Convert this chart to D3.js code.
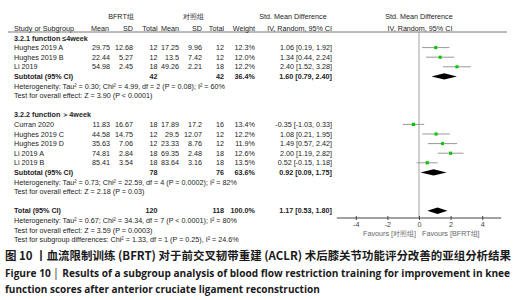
<!DOCTYPE html>
<html>
<head>
<meta charset="utf-8">
<script src="https://cdn.jsdelivr.net/npm/d3@7"></script>
<style>
  body { margin: 0; background: #fff; }
  svg { display: block; }
</style>
</head>
<body>
<div id="chart"></div>
<script>
// data
const studies = ["Hughes 2019 A", "Hughes 2019 B", "Li 2019", "Curran 2020", "Hughes 2019 C", "Hughes 2019 D", "Li 2019 A", "Li 2019 B"];
const subgroup = [0, 0, 0, 1, 1, 1, 1, 1];
const expMean = [29.75, 22.44, 54.98, 11.83, 44.58, 35.63, 74.81, 85.41];
const expSD = [12.68, 5.27, 2.45, 16.67, 14.75, 7.06, 2.84, 3.54];
const expN = [12, 12, 18, 18, 12, 12, 18, 18];
const ctlMean = [17.25, 13.5, 49.26, 17.89, 29.5, 23.33, 69.35, 83.64];
const ctlSD = [9.96, 7.42, 2.21, 17.2, 12.07, 8.76, 2.48, 3.16];
const ctlN = [12, 12, 18, 16, 12, 12, 18, 18];
const weight = [12.3, 12.0, 12.2, 13.4, 12.2, 11.9, 12.6, 13.5];
const smd = [1.06, 1.34, 2.40, -0.35, 1.08, 1.49, 2.00, 0.52];
const ciLo = [0.19, 0.44, 1.52, -1.03, 0.21, 0.57, 1.19, -0.15];
const ciHi = [1.92, 2.24, 3.28, 0.33, 1.95, 2.42, 2.82, 1.18];

const groupNames = ["3.2.1 function ≤4week", "3.2.2 function ＞4week"];
const subN = [[42, 42], [78, 76]];
const subWeight = [36.4, 63.6];
const subSmd = [[1.60, 0.79, 2.40], [0.92, 0.09, 1.75]];
const subHet = ["Heterogeneity: Tau² = 0.30; Chi² = 4.99, df = 2 (P = 0.08); I² = 60%",
                "Heterogeneity: Tau² = 0.73; Chi² = 22.59, df = 4 (P = 0.0002); I² = 82%"];
const subTest = ["Test for overall effect: Z = 3.90 (P < 0.0001)",
                 "Test for overall effect: Z = 2.18 (P = 0.03)"];
const totalN = [120, 118];
const totalSmd = [1.17, 0.53, 1.80];
const totalNotes = ["Heterogeneity: Tau² = 0.67; Chi² = 34.34, df = 7 (P < 0.0001); I² = 80%",
                    "Test for overall effect: Z = 3.59 (P = 0.0003)",
                    "Test for subgroup differences: Chi² = 1.33, df = 1 (P = 0.25), I² = 24.6%"];
const axisTicks = [-4, -2, 0, 2, 4];

const width = 522, height = 300;
const svg = d3.select("#chart").append("svg")
  .attr("width", width).attr("height", height)
  .style("font-family", "'Liberation Sans', Arial, sans-serif");

// build row list
const rows = [];
[0, 1].forEach(g => {
  rows.push({type: "group", label: groupNames[g]});
  studies.forEach((s, i) => {
    if (subgroup[i] === g) rows.push({type: "study", i});
  });
  rows.push({type: "sub", g});
  rows.push({type: "note", label: subHet[g]});
  rows.push({type: "note", label: subTest[g]});
  rows.push({type: "blank"});
});
rows.push({type: "total"});
totalNotes.forEach(t => rows.push({type: "note", label: t}));

const y = d3.scaleLinear().domain([0, 1]).range([38, 47.6]);
const x = d3.scaleLinear().domain([-5, 5]).range([340, 498]);
const size = d3.scaleSqrt().domain([0, 14]).range([0, 3.3]);

const fs = 7.2;
const col = {em: 110, esd: 133, en: 157.5, cm: 179, csd: 202, cn: 224, w: 255, ci: 332};
const txt = "#222";

function t(xp, yp, s, anchor, bold, color) {
  return svg.append("text")
    .attr("x", xp).attr("y", yp).attr("dy", "0.35em")
    .attr("text-anchor", anchor || "start")
    .attr("font-size", fs)
    .attr("font-weight", bold ? "bold" : "normal")
    .attr("fill", color || txt)
    .text(s);
}
const f2 = v => v.toFixed(2);
const ciText = v => `${f2(v[0])} [${f2(v[1])}, ${f2(v[2])}]`;

// headers
t(121, 16, "BFRT组", "middle");
t(193, 16, "对照组", "middle");
t(293, 16, "Std. Mean Difference", "middle");
t(419, 16, "Std. Mean Difference", "middle");
const hy = 28;
t(14, hy, "Study or Subgroup");
t(col.em - 1, hy, "Mean", "end");
t(col.esd, hy, "SD", "end");
t(col.en, hy, "Total", "end");
t(col.cm, hy, "Mean", "end");
t(col.csd, hy, "SD", "end");
t(col.cn, hy, "Total", "end");
t(col.w, hy, "Weight", "end");
t(332, hy, "IV, Random, 95% CI", "end");
t(420, hy, "IV, Random, 95% CI", "middle");
svg.append("line").attr("x1", 8).attr("x2", 507).attr("y1", 32).attr("y2", 32)
  .attr("stroke", "#555").attr("stroke-width", 0.8);

// zero line
svg.append("line").attr("x1", x(0)).attr("x2", x(0)).attr("y1", 32).attr("y2", 218)
  .attr("stroke", "#888").attr("stroke-width", 0.8);

function diamond(v, yc, h) {
  const pts = [[x(v[1]), yc], [x(v[0]), yc - h], [x(v[2]), yc], [x(v[0]), yc + h]];
  svg.append("path").attr("d", d3.line()(pts) + "Z").attr("fill", "#000");
}

rows.forEach((r, k) => {
  const yc = y(k);
  if (r.type === "group") {
    t(14, yc, r.label, "start", true);
  } else if (r.type === "study") {
    const i = r.i;
    t(14, yc, studies[i]);
    t(col.em, yc, f2(expMean[i]), "end");
    t(col.esd, yc, f2(expSD[i]), "end");
    t(col.en, yc, expN[i], "end");
    t(col.cm, yc, String(ctlMean[i]), "end");
    t(col.csd, yc, String(ctlSD[i]), "end");
    t(col.cn, yc, ctlN[i], "end");
    t(col.w, yc, weight[i].toFixed(1) + "%", "end");
    t(col.ci, yc, ciText([smd[i], ciLo[i], ciHi[i]]), "end");
    svg.append("line").attr("x1", x(ciLo[i])).attr("x2", x(ciHi[i]))
      .attr("y1", yc).attr("y2", yc).attr("stroke", "#999").attr("stroke-width", 1);
    const s = size(weight[i]);
    svg.append("rect").attr("x", x(smd[i]) - s / 2).attr("y", yc - s / 2)
      .attr("width", s).attr("height", s).attr("fill", "#00c800");
  } else if (r.type === "sub") {
    const g = r.g;
    t(14, yc, "Subtotal (95% CI)", "start", true);
    t(col.en, yc, subN[g][0], "end", true);
    t(col.cn, yc, subN[g][1], "end", true);
    t(col.w, yc, subWeight[g].toFixed(1) + "%", "end", true);
    t(col.ci, yc, ciText(subSmd[g]), "end", true);
    diamond(subSmd[g], yc, 3.2);
  } else if (r.type === "total") {
    t(14, yc, "Total (95% CI)", "start", true);
    t(col.en, yc, totalN[0], "end", true);
    t(col.cn, yc, totalN[1], "end", true);
    t(col.w, yc, "100.0%", "end", true);
    t(col.ci, yc, ciText(totalSmd), "end", true);
    diamond(totalSmd, yc, 3.2);
  } else if (r.type === "note") {
    t(14, yc, r.label);
  }
});

// axis
const axisG = svg.append("g").attr("transform", "translate(0,218)")
  .call(d3.axisBottom(x).tickValues(axisTicks).tickSize(3).tickSizeOuter(0).tickFormat(d => String(d)));
axisG.select(".domain").attr("stroke", "#444").attr("d", `M${x(-5.2)},0H${x(5.2)}`);
axisG.selectAll(".tick line").attr("stroke", "#444").attr("y1", -2).attr("y2", 2);
axisG.selectAll(".tick text").attr("font-size", fs).attr("fill", "#444")
  .attr("font-family", "'Liberation Sans', Arial, sans-serif").attr("y", 4);

t(x(0) - 3, 233, "Favours [对照组]", "end", false, "#666");
t(x(0) + 3, 233, "Favours [BFRT组]", "start", false, "#666");

// caption
const cap = svg.append("g").attr("fill", "#1a1a1a");
cap.append("text").attr("x", 5).attr("y", 260)
  .attr("font-family", "'Noto Sans CJK SC', sans-serif").attr("font-weight", "bold").attr("font-size", 11.6)
  .attr("textLength", 506).attr("lengthAdjust", "spacingAndGlyphs")
  .text("图 10 丨血流限制训练 (BFRT) 对于前交叉韧带重建 (ACLR) 术后膝关节功能评分改善的亚组分析结果");
cap.append("text").attr("x", 5).attr("y", 277)
  .attr("font-family", "'Open Sans', sans-serif").attr("font-weight", "bold").attr("font-size", 10)
  .attr("textLength", 505).attr("lengthAdjust", "spacingAndGlyphs")
  .text("Figure 10 │  Results of a subgroup analysis of blood flow restriction training for improvement in knee");
cap.append("text").attr("x", 5).attr("y", 293)
  .attr("font-family", "'Open Sans', sans-serif").attr("font-weight", "bold").attr("font-size", 10)
  .text("function scores after anterior cruciate ligament reconstruction");
</script>
</body>
</html>
